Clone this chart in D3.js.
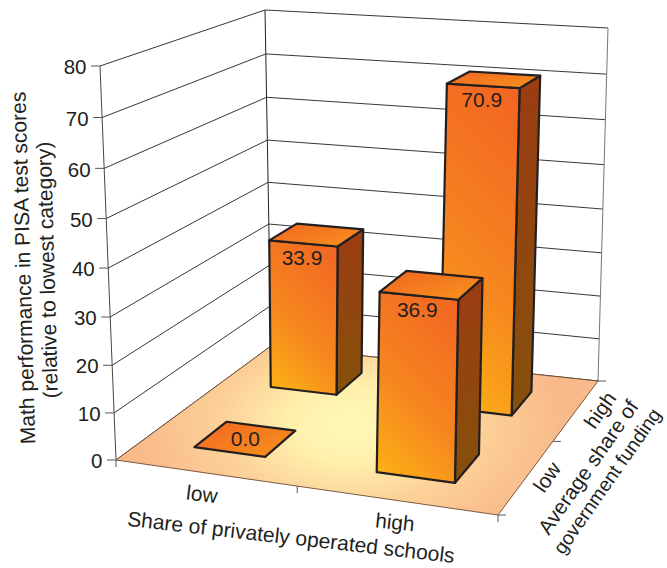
<!DOCTYPE html>
<html><head><meta charset="utf-8">
<script src="https://cdn.jsdelivr.net/npm/d3@7/dist/d3.min.js"></script>
<style>html,body{margin:0;background:#fff}svg{display:block}text{font-family:"Liberation Sans",Arial,sans-serif;fill:#231f20}</style>
</head><body><svg id="c" width="667" height="568"></svg>
<script>
// Data
const privateShare = ["low", "high"];
const fundingShare = ["low", "high"];
const scoresLowFunding = [0.0, 36.9];
const scoresHighFunding = [33.9, 70.9];
const scoreTicks = [0, 10, 20, 30, 40, 50, 60, 70, 80];

const svg = d3.select("#c");

// Perspective box: floor and ceiling quads, ordered front-left, front-right, back-right, back-left
const floorQuad = [[116,460],[498,515],[598,381],[271,346]];
const ceilQuad  = [[100,66],[504,88],[608,28],[265,10]];

function homography(q) {
  const [[x0,y0],[x1,y1],[x2,y2],[x3,y3]] = q;
  const dx1=x1-x2, dx2=x3-x2, sx=x0-x1+x2-x3, dy1=y1-y2, dy2=y3-y2, sy=y0-y1+y2-y3;
  const d=dx1*dy2-dx2*dy1, g=(sx*dy2-dx2*sy)/d, h=(dx1*sy-sx*dy1)/d;
  const a=x1-x0+g*x1, b=x3-x0+h*x3, e=y1-y0+g*y1, f=y3-y0+h*y3;
  return (u,v)=>{const w=g*u+h*v+1;return [(a*u+b*v+x0)/w,(e*u+f*v+y0)/w];};
}
const floorH = homography(floorQuad), ceilH = homography(ceilQuad);

const score = d3.scaleLinear().domain([0,80]).range([0,1]);
// slight foreshortening with height
const lift = t => t/(t+(1-t)*1.053);
function project(u,v,val){
  const t = lift(score(val)), a = floorH(u,v), b = ceilH(u,v);
  return [a[0]+(b[0]-a[0])*t, a[1]+(b[1]-a[1])*t];
}

const xBand = d3.scaleBand().domain(privateShare).range([0,1]).paddingInner(0.6).paddingOuter(0.3);
const zBand = d3.scaleBand().domain(fundingShare).range([0,1]).paddingInner(0.6).paddingOuter(0.3);

const line = d3.line();
const closed = pts => line(pts)+"Z";

// Gradients
const defs = svg.append("defs");
function linGrad(id,x1,y1,x2,y2,stops,units){
  const g=defs.append("linearGradient").attr("id",id).attr("x1",x1).attr("y1",y1).attr("x2",x2).attr("y2",y2);
  if(units) g.attr("gradientUnits",units);
  stops.forEach(([o,c])=>g.append("stop").attr("offset",o).attr("stop-color",c));
}
const frontStops=[[0,"#fdb515"],[0.45,"#f6861f"],[1,"#f26522"]];
linGrad("side",0,0,0,1,[[0,"#9c3c12"],[1,"#85510b"]]);
linGrad("top",0,0,1,1,[[0,"#f26522"],[1,"#f7941d"]]);
const fg=defs.append("radialGradient").attr("id","floor").attr("gradientUnits","userSpaceOnUse")
  .attr("cx",350).attr("cy",425).attr("r",215).attr("gradientTransform","translate(350 425) scale(1 0.62) translate(-350 -425)");
[[0,"#fff9b8"],[0.28,"#fff0ac"],[0.6,"#fcd198"],[1,"#f9b98a"]].forEach(([o,c])=>fg.append("stop").attr("offset",o).attr("stop-color",c));

// Walls and gridlines
const grid = svg.append("g").attr("fill","none").attr("stroke","#231f20");
scoreTicks.forEach(t=>{
  grid.append("path").attr("stroke-width",0.9).attr("d",line([project(0,0,t),project(0,1,t),project(1,1,t)]));
});
grid.append("path").attr("stroke-width",1).attr("stroke","#444").attr("d",line([project(0,0,0),project(0,0,80)]));
grid.append("path").attr("stroke-width",1).attr("d",line([project(0,1,0),project(0,1,80)]));
grid.append("path").attr("stroke-width",1).attr("stroke","#777").attr("d",line([project(1,1,0),project(1,1,80)]));

// Floor
svg.append("path").attr("d",closed(floorQuad)).attr("fill","url(#floor)").attr("stroke","#6b4a33").attr("stroke-width",0.9);

// Score axis ticks and labels
const axis = svg.append("g");
scoreTicks.forEach(t=>{
  const [x,y]=project(0,0,t);
  axis.append("path").attr("d",line([[x-9,y],[x,y]])).attr("stroke","#555").attr("stroke-width",1);
  axis.append("text").attr("x",x-13.5).attr("y",y+1).attr("text-anchor","end").attr("font-size",20.5)
    .attr("dy","0.35em").text(t);
});

// Floor edge ticks
const tickG = svg.append("g").attr("stroke","#555").attr("fill","none").attr("stroke-width",1);
[[0,0],[0.5,0],[1,0]].forEach(([u,v])=>{const [x,y]=floorH(u,v);tickG.append("path").attr("d",line([[x,y],[x,y+7]]));});
[[1,0],[1,0.5],[1,1]].forEach(([u,v])=>{const [x,y]=floorH(u,v);tickG.append("path").attr("d",line([[x,y],[x+8,y]]));});

// Bars, far row first
const rows = [["high",scoresHighFunding],["low",scoresLowFunding]];
rows.forEach(([f,vals])=>{
  privateShare.forEach((p,i)=>{
    const val=vals[i];
    const u0=xBand(p),u1=u0+xBand.bandwidth(),v0=zBand(f),v1=v0+zBand.bandwidth();
    const g=svg.append("g").attr("stroke","#231f20").attr("stroke-width",2.2).attr("stroke-linejoin","round");
    const ftl=project(u0,v0,val), ftr=project(u1,v0,val), btr=project(u1,v1,val), btl=project(u0,v1,val);
    if(val>0){
      const bl=project(u0,v0,0), br=project(u1,v0,0);
      // 45-degree shading across the front face, whatever its proportions
      const span=((br[0]-bl[0])+(br[1]-ftr[1]))/2, id=`front-${f}-${p}`;
      linGrad(id,bl[0],br[1],bl[0]+span,br[1]-span,frontStops,"userSpaceOnUse");
      g.append("path").attr("fill","url(#side)").attr("d",closed([ftr,btr,project(u1,v1,0),br]));
      g.append("path").attr("fill",`url(#${id})`).attr("d",closed([ftl,ftr,br,bl]));
    }
    g.append("path").attr("fill","url(#top)").attr("d",closed([ftl,ftr,btr,btl]));
    const lx=val>0?ftl[0]+(ftr[0]-ftl[0])*0.48:(ftl[0]+ftr[0]+btr[0]+btl[0])/4;
    const ly=val>0?(ftl[1]+ftr[1])/2+14:(ftl[1]+ftr[1]+btr[1]+btl[1])/4;
    svg.append("text").attr("x",lx).attr("y",ly).attr("dy","0.35em").attr("text-anchor","middle")
      .attr("font-size",21).text(val.toFixed(1));
  });
});

// Axis text
function label(s,x,y,rot,size){
  svg.append("text").attr("transform",`translate(${x},${y}) rotate(${rot})`).attr("text-anchor","middle")
    .attr("dy","0.35em").attr("font-size",size).text(s);
}
label("Math performance in PISA test scores",23,268,-91.6,21);
label("(relative to lowest category)",47,270,-91.6,21);
label("low",202,494,7,20.8);
label("high",395,522,6,20.8);
label("Share of privately operated schools",291,537,6.5,21);
label("low",547,477,-55,20.8);
label("high",600,410,-55,20.8);
label("Average share of",588,467,-55,20.8);
label("government funding",607,481,-55,19.5);
</script></body></html>
